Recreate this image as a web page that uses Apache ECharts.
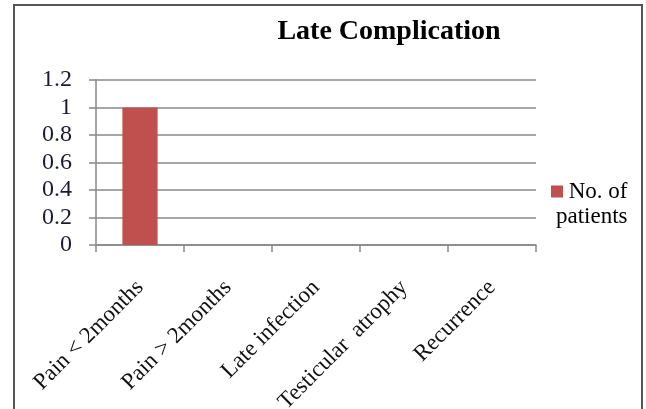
<!DOCTYPE html>
<html>
<head>
<meta charset="utf-8">
<script src="https://cdn.jsdelivr.net/npm/echarts@6/dist/echarts.min.js"></script>
<style>
  html, body { margin: 0; padding: 0; background: #fff; }
  #chart { width: 646px; height: 409px; }
</style>
</head>
<body>
<div id="chart"></div>
<script>
// Late complications after surgery, number of patients per complication
var categories = ['Pain < 2months', 'Pain > 2months', 'Late infection', 'Testicular  atrophy', 'Recurrence'];
var patients = [1, 0, 0, 0, 0];
var seriesName = 'No. of patients';
var yTicks = { min: 0, max: 1.2, interval: 0.2 };

var serif = '"Liberation Serif", "DejaVu Serif", serif';
var barColor = '#C0504D';
var chart = echarts.init(document.getElementById('chart'), null, { renderer: 'canvas' });

chart.setOption({
  animation: false,
  backgroundColor: '#ffffff',
  title: {
    text: 'Late Complication',
    left: 384,
    top: 13,
    textAlign: 'center',
    textStyle: { fontFamily: serif, fontWeight: 'bold', fontSize: 28, color: '#000' }
  },
  legend: {
    data: [seriesName],
    left: 541,
    top: 174,
    orient: 'vertical',
    icon: 'none',
    itemWidth: 0,
    itemHeight: 0,
    formatter: function () { return '{sq|}{a| No. of}\n{b|patients}'; },
    textStyle: {
      fontFamily: serif, fontSize: 23, color: '#000', lineHeight: 25,
      rich: {
        sq: { width: 12, height: 12, backgroundColor: barColor },
        a: { fontFamily: serif, fontSize: 23, color: '#000', lineHeight: 25 },
        b: { fontFamily: serif, fontSize: 23, color: '#000', lineHeight: 25, padding: [0, 0, 0, 5] }
      }
    }
  },
  grid: { left: 96, right: 110, top: 80, bottom: 164, containLabel: false, outerBoundsMode: 'none' },
  xAxis: {
    type: 'category',
    data: categories,
    axisLine: { show: true, lineStyle: { color: '#888', width: 1.5 } },
    axisTick: { show: true, length: 7, lineStyle: { color: '#888', width: 1.5 } },
    axisLabel: {
      rotate: 45,
      interval: 0,
      margin: 39,
      fontFamily: serif,
      fontSize: 23,
      color: '#111'
    }
  },
  yAxis: {
    type: 'value',
    min: yTicks.min,
    max: yTicks.max,
    interval: yTicks.interval,
    axisLine: { show: true, lineStyle: { color: '#888', width: 1.5 } },
    axisTick: { show: true, length: 7, lineStyle: { color: '#888', width: 1.5 } },
    splitLine: { show: true, lineStyle: { color: '#888', width: 1.5 } },
    axisLabel: {
      margin: 24,
      fontFamily: serif,
      fontSize: 24,
      color: '#1a1a33',
      formatter: function (v) { return String(Math.round(v * 10) / 10); }
    }
  },
  series: [{
    name: seriesName,
    type: 'bar',
    data: patients,
    barWidth: '40%',
    itemStyle: { color: barColor }
  }],
  graphic: [{
    type: 'rect',
    shape: { x: 14, y: 5, width: 628, height: 420 },
    style: { fill: 'none', stroke: '#555', lineWidth: 2 },
    silent: true,
    z: 100
  }]
});
</script>
</body>
</html>
